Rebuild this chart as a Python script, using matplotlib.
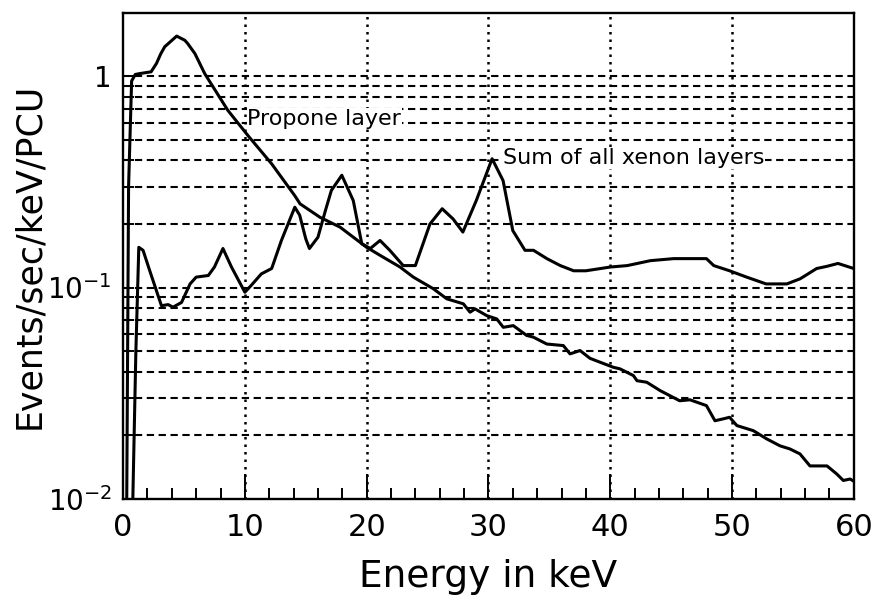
import numpy as np
import matplotlib
matplotlib.use("Agg")
import matplotlib.pyplot as plt
from matplotlib.ticker import FixedLocator, FixedFormatter, NullFormatter

# Propane layer spectrum
prop_x = [0.3, 0.45, 0.7, 1.0, 1.37, 2.3, 2.74, 3.1, 3.42, 4.4, 5.07, 5.3, 5.9, 6.7, 8.6,
          10.3, 12.2, 14.1, 14.53, 16.17, 17.82, 20.0, 21.1, 22.74, 23.83, 25.48, 26.58,
          27.94, 28.49, 28.9, 29.86, 30.68, 31.22, 32.04, 33.14, 33.69, 34.79, 36.15, 36.7,
          37.52, 38.34, 39.16, 40.26, 40.8, 41.9, 42.2, 43.0, 44.1, 45.7, 46.55, 47.9, 48.6,
          49.3, 49.8, 50.4, 51.75, 52.85, 53.94, 54.76, 55.58, 56.4, 57.8, 58.6, 59.14, 59.7,
          60.0]
prop_y = [0.01, 0.3, 0.95, 1.02, 1.03, 1.05, 1.15, 1.28, 1.38, 1.55, 1.48, 1.43, 1.28, 1.03,
          0.69, 0.52, 0.385, 0.272, 0.249, 0.215, 0.193, 0.155, 0.142, 0.125, 0.112, 0.0986,
          0.0884, 0.0837, 0.0764, 0.0792, 0.0736, 0.071, 0.0648, 0.066, 0.0593, 0.0582, 0.054,
          0.0531, 0.0485, 0.0503, 0.0462, 0.0443, 0.0419, 0.0412, 0.0383, 0.0362, 0.0356,
          0.0325, 0.0291, 0.0294, 0.0276, 0.0234, 0.0239, 0.0243, 0.0222, 0.021, 0.0192,
          0.0178, 0.0172, 0.0163, 0.0143, 0.0143, 0.0131, 0.0122, 0.0124, 0.0121]

# Sum of all xenon layers
xe_x = [0.8, 1.05, 1.29, 1.64, 2.19, 3.15, 3.7, 4.1, 4.8, 5.5, 6.0, 7.0, 7.5, 8.2, 8.9,
        10.0, 10.5, 11.35, 12.2, 13.0, 14.1, 14.5, 15.0, 15.3, 16.0, 16.6, 17.1, 17.96,
        18.9, 19.6, 20.3, 21.1, 21.9, 23.0, 24.0, 25.2, 26.2, 27.1, 27.9, 29.0, 30.3, 31.2,
        32.0, 33.0, 33.7, 34.8, 35.9, 37.0, 38.0, 40.0, 41.4, 43.3, 45.2, 46.8, 47.9, 48.5,
        49.8, 51.2, 52.8, 54.5, 55.6, 56.95, 57.8, 58.7, 60.0]
xe_y = [0.01, 0.05, 0.155, 0.15, 0.12, 0.082, 0.083, 0.0807, 0.085, 0.104, 0.112, 0.114,
        0.125, 0.153, 0.125, 0.095, 0.102, 0.116, 0.123, 0.167, 0.24, 0.22, 0.17, 0.153,
        0.173, 0.23, 0.288, 0.34, 0.258, 0.161, 0.153, 0.167, 0.15, 0.127, 0.127, 0.2,
        0.236, 0.211, 0.183, 0.258, 0.407, 0.321, 0.186, 0.15, 0.15, 0.137, 0.127, 0.12,
        0.12, 0.125, 0.127, 0.134, 0.137, 0.137, 0.137, 0.127, 0.12, 0.112, 0.104, 0.104,
        0.11, 0.123, 0.126, 0.13, 0.123]

y_major = [0.01, 0.1, 1]
y_labels = ["$10^{-2}$", "$10^{-1}$", "1"]
x_major = [0, 10, 20, 30, 40, 50, 60]

plt.rcParams["font.family"] = "DejaVu Sans"
plt.rcParams["mathtext.fontset"] = "dejavusans"

fig = plt.figure(figsize=(8.73, 5.98), dpi=100)
ax = fig.add_axes([0.141, 0.166, 0.837, 0.812])
ax.set_yscale("log")
ax.set_xlim(0, 60)
ax.set_ylim(0.01, 1.99)

# horizontal dashed grid at every log step up to 1
for e in (-2, -1):
    for m in range(2, 11):
        ax.axhline(m * 10.0**e, color="black", lw=1.5, linestyle=(0, (3.5, 2.2)), zorder=1)
for xv in x_major[1:-1]:
    ax.axvline(xv, color="black", lw=1.8, linestyle=(0, (1, 2.0)), zorder=1)

ax.plot(prop_x, prop_y, color="black", lw=2.2, zorder=3)
ax.plot(xe_x, xe_y, color="black", lw=2.2, zorder=3)

box = dict(facecolor="white", edgecolor="none", pad=0.5)
ax.text(10.2, 0.63, "Propone layer", fontsize=16, va="center", ha="left", bbox=box, zorder=2)
ax.text(31.2, 0.41, "Sum of all xenon layers", fontsize=16, va="center", ha="left",
        bbox=box, zorder=2)

ax.xaxis.set_major_locator(FixedLocator(x_major))
ax.xaxis.set_minor_locator(FixedLocator(np.arange(0, 61, 2)))
ax.yaxis.set_major_locator(FixedLocator(y_major))
ax.yaxis.set_major_formatter(FixedFormatter(y_labels))
ax.yaxis.set_minor_locator(FixedLocator([m * 10.0**e for e in (-2, -1) for m in range(2, 10)]))
ax.yaxis.set_minor_formatter(NullFormatter())

ax.tick_params(axis="x", which="major", direction="in", length=18, width=1.4,
               labelsize=22, pad=10, top=False)
ax.tick_params(axis="x", which="minor", direction="in", length=8, width=1.4, top=False)
ax.tick_params(axis="y", which="both", direction="in", length=8, width=1.4,
               labelsize=20, pad=8, right=False)

for s in ax.spines.values():
    s.set_linewidth(1.7)

ax.set_xlabel("Energy in keV", fontsize=27)
ax.set_ylabel("Events/sec/keV/PCU", fontsize=25)
ax.xaxis.set_label_coords(0.5, -0.125)
ax.yaxis.set_label_coords(-0.105, 0.5)

fig.savefig("out.png", dpi=100)
